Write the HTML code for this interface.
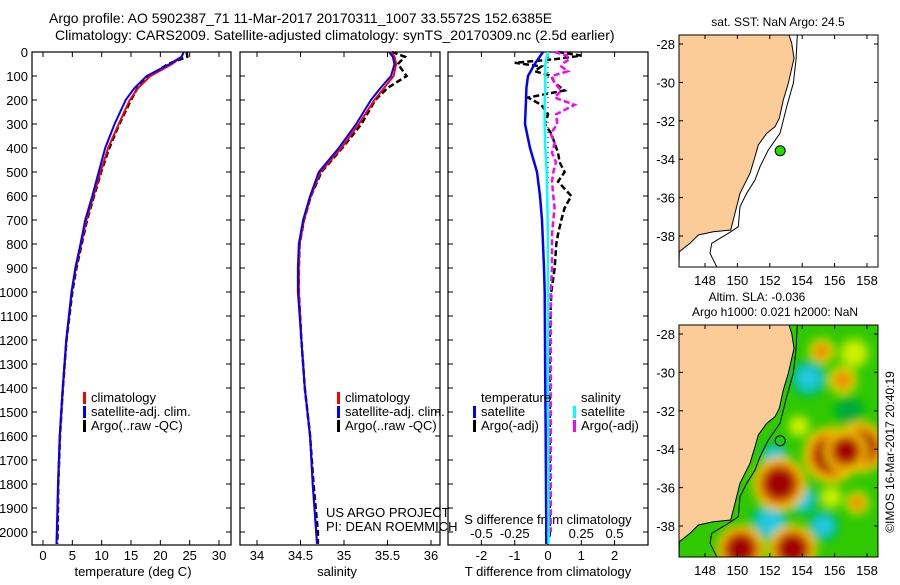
<!DOCTYPE html>
<html><head><meta charset="utf-8"><style>
html,body{margin:0;padding:0;background:#fff;}
svg text{font-family:"Liberation Sans",sans-serif;font-size:13px;fill:#000;}
</style></head><body>
<svg id="c" width="900" height="580" viewBox="0 0 900 580" xmlns="http://www.w3.org/2000/svg">
<defs>
<filter id="blur" x="-20%" y="-20%" width="140%" height="140%"><feGaussianBlur stdDeviation="4.5"/></filter>
<clipPath id="mapclip"><rect x="679" y="325" width="199" height="232"/></clipPath>
</defs>
<text x="49" y="23" style="font-size:14px">Argo profile: AO 5902387_71 11-Mar-2017 20170311_1007 33.5572S 152.6385E</text>
<text x="55" y="40" style="font-size:14px">Climatology: CARS2009. Satellite-adjusted climatology: synTS_20170309.nc (2.5d earlier)</text>
<g id="g"></g>
</svg>
<script>
// ---- data ----
const depthTicks=[0,100,200,300,400,500,600,700,800,900,1000,1100,1200,1300,1400,1500,1600,1700,1800,1900,2000];
const tempTicks=[0,5,10,15,20,25,30];
const salTicks=[34,34.5,35,35.5,36];
const tdTicks=[-2,-1,0,1,2];
const sdTicks=[-0.5,-0.25,0,0.25,0.5];
const sdTickLabels=["-0.5","-0.25","0","0.25","0.5"];
const profDepth=[0,20,50,100,150,200,300,400,500,600,700,800,900,1000,1200,1400,1600,1800,2000,2050];
const tempClim=[23.9,23.7,22.0,18.3,16.2,14.8,12.9,11.1,9.8,8.6,7.4,6.5,5.6,4.9,4.0,3.4,2.9,2.6,2.4,2.3];
const tempSat=[24.0,23.6,21.6,17.7,15.6,14.1,12.2,10.6,9.5,8.4,7.2,6.4,5.5,4.85,3.95,3.35,2.85,2.55,2.35,2.3];
const tempArgo=[24.5,24.6,21.3,18.2,16.1,15.0,13.0,11.3,9.9,8.7,7.5,6.6,5.7,5.0,4.0,3.4,2.9,2.6,2.5,2.4];
const salClim=[35.54,35.58,35.60,35.57,35.46,35.35,35.17,34.97,34.73,34.62,34.54,34.49,34.48,34.48,34.51,34.55,34.61,34.64,34.68,34.69];
const salSat=[35.52,35.56,35.58,35.54,35.42,35.31,35.14,34.94,34.71,34.61,34.53,34.48,34.47,34.47,34.51,34.55,34.61,34.64,34.68,34.69];
const salArgo=[35.55,35.70,35.62,35.72,35.50,35.36,35.20,34.98,34.74,34.62,34.54,34.49,34.48,34.48,34.51,34.55,34.61,34.65,34.70,34.70];
const tdSat=[-0.15,-0.25,-0.4,-0.6,-0.65,-0.66,-0.69,-0.54,-0.33,-0.24,-0.18,-0.15,-0.12,-0.1,-0.09,-0.08,-0.07,-0.06,-0.05,-0.05];
const sdSat=[0,-0.01,-0.02,-0.02,-0.02,-0.025,-0.025,-0.02,-0.01,-0.005,-0.003,0,0,0,0,0,0.002,0.003,0.004,0.004];
const argoDiffDepth=[0,15,30,45,60,80,100,130,160,190,220,260,300,340,380,420,460,500,540,600,650,700,760,800,900,1000,1200,1400,1600,1800,2000];
const tdArgo=[0.3,1.0,0.2,-1.0,-0.2,-0.4,0.1,0.2,0.5,-0.6,-0.2,0.0,-0.1,0.1,0.2,0.3,0.35,0.5,0.3,0.7,0.5,0.4,0.3,0.25,0.2,0.1,0.05,0.05,0.05,0.05,0.05];
const sdArgo=[0.05,0.14,0.16,0.12,0.1,0.15,0.03,0.05,0.1,0.05,0.2,0.06,0.07,0.02,0.05,0.03,0.06,0.04,0.03,0.04,0.05,0.04,0.03,0.03,0.03,0.02,0.02,0.02,0.02,0.02,0.02];
const mapLonTicks=[148,150,152,154,156,158];
const mapLatTicks=[-28,-30,-32,-34,-36,-38];
const floatLon=[152.64];
const floatLat=[-33.56];
const slaLon=[157.2,153.8,155.8,155.2,156.5,157.4,156.9,154.4,152.0,152.3,154.0,155.3,152.6,155.8,157.6,150.2,153.4,156.7];
const slaLat=[-29.0,-32.8,-36.5,-28.9,-30.4,-36.8,-32.0,-30.3,-37.8,-34.4,-36.6,-38.0,-35.8,-34.3,-33.9,-39.2,-39.2,-34.1];
const slaKind=["ye","ye","ye","or","or","or","gd","cy","cy","cy","cy","cy","dr","dr","dr","dr","dr","dr"];
const slaSize=[1.2,0.9,0.9,1.0,1.1,0.9,1.2,1.4,1.5,1.1,1.2,1.2,2.0,2.1,1.9,1.8,1.8,1.6];

// ---- scales ----
const NS='http://www.w3.org/2000/svg';
const G=document.getElementById('g');
function el(t,a,p){const e=document.createElementNS(NS,t);for(const k in a)e.setAttribute(k,a[k]);(p||G).appendChild(e);return e;}
const yD=d=>52+d*0.24;
const xT=t=>43+t*5.867;
const xS=s=>257+(s-34)*87;
const xTD=t=>548+t*33.3;
const xSD=s=>548+s*133;
const mx=lon=>705+(lon-148)*16.2;
const my=lat=>44+(-28-lat)*19.2;
function poly(xs,ys,xf,yf,stroke,w,dash,name){
  const pts=xs.map((v,i)=>xf(v).toFixed(1)+','+yf(ys[i]).toFixed(1)).join(' ');
  const e=el('polyline',{points:pts,fill:'none',stroke:stroke,'stroke-width':w});
  if(dash)e.setAttribute('stroke-dasharray',dash);
  
  
}

function panel(x0,x1,name){
  const r=el('rect',{x:x0,y:52,width:x1-x0,height:493,fill:'none',stroke:'#000','stroke-width':1.2});
  
  
  depthTicks.forEach(d=>{
    el('line',{x1:x0,x2:x0+5,y1:yD(d),y2:yD(d),stroke:'#000'});
    el('line',{x1:x1-5,x2:x1,y1:yD(d),y2:yD(d),stroke:'#000'});
  });
}
// panel 1
panel(32,231,'temperature-panel');
depthTicks.forEach(d=>{const t=el('text',{x:28,y:yD(d)+5,'text-anchor':'end'});t.textContent=d;
 });
tempTicks.forEach(v=>{el('line',{x1:xT(v),x2:xT(v),y1:52,y2:57,stroke:'#000'});el('line',{x1:xT(v),x2:xT(v),y1:540,y2:545,stroke:'#000'});
 const t=el('text',{x:xT(v),y:560,'text-anchor':'middle'});t.textContent=v;
 });
let t=el('text',{x:133,y:576,'text-anchor':'middle'});t.textContent='temperature (deg C)';

poly(tempArgo,profDepth,xT,yD,'#000',2.5,'6,3','temp-argo-line');
poly(tempClim,profDepth,xT,yD,'#f00',2,null,'temp-climatology-line');
poly(tempSat,profDepth,xT,yD,'#00f',2,null,'temp-satellite-line');
// panel 2
panel(240,440,'salinity-panel');
salTicks.forEach(v=>{el('line',{x1:xS(v),x2:xS(v),y1:52,y2:57,stroke:'#000'});el('line',{x1:xS(v),x2:xS(v),y1:540,y2:545,stroke:'#000'});
 const t=el('text',{x:xS(v),y:560,'text-anchor':'middle'});t.textContent=v;
 });
t=el('text',{x:337,y:576,'text-anchor':'middle'});t.textContent='salinity';

poly(salArgo,profDepth,xS,yD,'#000',2.5,'6,3','sal-argo-line');
poly(salClim,profDepth,xS,yD,'#f00',2,null,'sal-climatology-line');
poly(salSat,profDepth,xS,yD,'#00f',2,null,'sal-satellite-line');
// panel 3
panel(448,648,'difference-panel');
tdTicks.forEach(v=>{el('line',{x1:xTD(v),x2:xTD(v),y1:52,y2:57,stroke:'#000'});el('line',{x1:xTD(v),x2:xTD(v),y1:540,y2:545,stroke:'#000'});
 const t=el('text',{x:xTD(v),y:560,'text-anchor':'middle'});t.textContent=v;
 });
sdTicks.forEach((v,i)=>{const t=el('text',{x:xSD(v),y:538,'text-anchor':'middle'});t.textContent=sdTickLabels[i];
 });
t=el('text',{x:548,y:524,'text-anchor':'middle'});t.textContent='S difference from climatology';

t=el('text',{x:548,y:576,'text-anchor':'middle'});t.textContent='T difference from climatology';

el('line',{x1:xTD(0),x2:xTD(0),y1:52,y2:545,stroke:'#000','stroke-dasharray':'1,4'});
poly(tdArgo,argoDiffDepth,xTD,yD,'#000',2.5,'6,3','tdiff-argo-line');
poly(sdArgo,argoDiffDepth,xSD,yD,'#f0f',2.5,'6,3','sdiff-argo-line');
poly(tdSat,profDepth,xTD,yD,'#00f',2.5,null,'tdiff-satellite-line');
poly(sdSat,profDepth,xSD,yD,'#0ff',2.5,null,'sdiff-satellite-line');
// legends
function leg(x,y,col,label,name){el('rect',{x:x,y:y-10,width:3,height:12,fill:col});
 const t=el('text',{x:x+8,y:y});t.textContent=label;}
[[83,'temperature'],[337,'salinity']].forEach(([x,n])=>{
 leg(x,402,'#f00','climatology',n+'-legend-climatology');
 leg(x,416,'#00f','satellite-adj. clim.',n+'-legend-satellite');
 leg(x,430,'#000','Argo(..raw -QC)',n+'-legend-argo');});
t=el('text',{x:481,y:402});t.textContent='temperature';
t=el('text',{x:581,y:402});t.textContent='salinity';
leg(473,416,'#00f','satellite','diff-legend-temp-satellite');
leg(473,430,'#000','Argo(-adj)','diff-legend-temp-argo');
leg(573,416,'#0ff','satellite','diff-legend-sal-satellite');
leg(573,430,'#f0f','Argo(-adj)','diff-legend-sal-argo');
t=el('text',{x:326,y:517});t.textContent='US ARGO PROJECT';
t=el('text',{x:326,y:531});t.textContent='PI: DEAN ROEMMICH';

// ---- maps ----
const coast=[[447,105],[455,130],[462,175],[445,250],[430,300],[418,355],[405,380],[380,400],[355,435],[345,470],[330,520],[310,560],[300,580],[285,640],[272,690],[220,695],[175,705],[150,730],[118,755]];
const bathy=[[472,105],[470,140],[468,180],[460,250],[440,320],[420,400],[385,450],[360,500],[345,540],[320,580],[300,620],[295,680],[265,700],[215,730],[210,760],[230,800]];
function drawMap(dy,isSla){
  const top=35+dy;
  if(isSla){
    const grp=el('g',{'clip-path':'url(#mapclip)'});
    el('rect',{x:679,y:top,width:199,height:232,fill:'#30c800'},grp);
    const bl=el('g',{filter:'url(#blur)'},grp);
    const cols={dr:['#f0c800','#e07000','#a00000'],cy:['#00c040','#00c0a0','#20c8e0'],gd:['#00c000','#00b030','#00a840'],or:['#b8e800','#f0c000','#e89000'],ye:['#70d800','#b0e800','#d0f000']};
    slaKind.forEach((k,i)=>{const cx=mx(slaLon[i]),cy=my(slaLat[i])+dy,r=slaSize[i]*10;
      el('circle',{cx:cx,cy:cy,r:r*1.35,fill:cols[k][0]},bl);
      el('circle',{cx:cx,cy:cy,r:r*1.05,fill:cols[k][1]},bl);
      const c=el('circle',{cx:cx,cy:cy,r:r*0.8,fill:cols[k][2]},bl);
      });
  }
  const coastPts=coast.map(p=>(640+p[0]/3).toFixed(1)+','+(p[1]/3+dy).toFixed(1));
  const land=el('polygon',{points:'679,'+top+' '+coastPts.join(' ')+' 679,'+(top+232),fill:'#fbcb98',stroke:'#000','stroke-width':1});
  
  const b=el('polyline',{points:bathy.map(p=>(640+p[0]/3).toFixed(1)+','+(p[1]/3+dy).toFixed(1)).join(' '),fill:'none',stroke:'#000','stroke-width':1});
  
  const fr=el('rect',{x:679,y:top,width:199,height:232,fill:'none',stroke:'#000','stroke-width':1});
  
  mapLonTicks.forEach(v=>{el('line',{x1:mx(v),x2:mx(v),y1:top,y2:top+4,stroke:'#000'});el('line',{x1:mx(v),x2:mx(v),y1:top+228,y2:top+232,stroke:'#000'});
    const t=el('text',{x:mx(v),y:top+250,'text-anchor':'middle'});t.textContent=v;});
  mapLatTicks.forEach(v=>{el('line',{x1:679,x2:683,y1:my(v)+dy,y2:my(v)+dy,stroke:'#000'});el('line',{x1:874,x2:878,y1:my(v)+dy,y2:my(v)+dy,stroke:'#000'});
    const t=el('text',{x:675,y:my(v)+dy+5,'text-anchor':'end'});t.textContent=v;});
  const f=el('circle',{cx:mx(floatLon[0]),cy:my(floatLat[0])+dy,r:5,fill:isSla?'none':'#22dd00',stroke:'#000','stroke-width':1});
  
}
drawMap(0,false);
drawMap(290,true);
t=el('text',{x:778,y:26,'text-anchor':'middle','style':'font-size:12px'});t.textContent='sat. SST: NaN Argo: 24.5';
t=el('text',{x:757,y:301,'text-anchor':'middle','style':'font-size:12px'});t.textContent='Altim. SLA: -0.036';
t=el('text',{x:775,y:316,'text-anchor':'middle','style':'font-size:12px'});t.textContent='Argo h1000: 0.021 h2000: NaN';
t=el('text',{x:0,y:0,'text-anchor':'middle',transform:'translate(894,452) rotate(-90)','style':'font-size:12px'});t.textContent='©IMOS 16-Mar-2017 20:40:19';
</script>
</body></html>
